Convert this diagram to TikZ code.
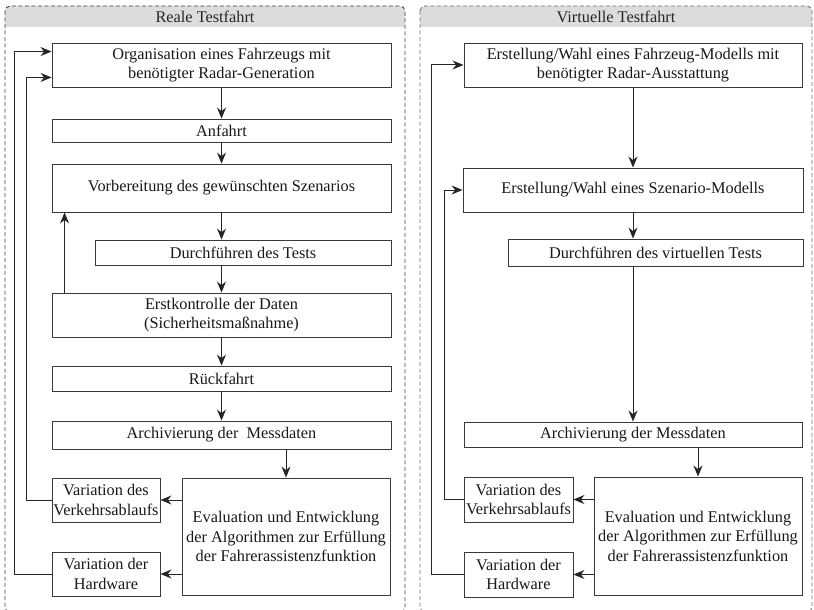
\documentclass[tikz,border=0pt]{standalone}
\usepackage{fontspec}
\setmainfont{Liberation Serif}
\usetikzlibrary{arrows.meta,calc}
\definecolor{headgray}{HTML}{DCDCDC}
\definecolor{linegray}{HTML}{3A3A3A}
\definecolor{dashgray}{HTML}{555555}
\tikzset{
  box/.style={draw=linegray, line width=0.9pt, fill=white, align=center, inner sep=1pt,
    font=\fontsize{16.3}{19.5}\selectfont, text=black!90},
  arr/.style={draw=black!85, line width=1pt, -{Stealth[length=11pt,width=9pt]}},
  panel/.style={dashed, dash pattern=on 4pt off 2.5pt, line width=0.9pt, rounded corners=5pt},
  headtext/.style={font=\fontsize{16.3}{19}\selectfont, text=black!85}
}
\begin{document}
\begin{tikzpicture}[x=1pt,y=-1pt]
\useasboundingbox (0,0) rectangle (814,610);
% panels
\fill[headgray] (5,27) [rounded corners=5pt]-- (5,6) -- (405,6) [sharp corners]-- (405,27) -- cycle;
\fill[headgray] (420,27) [rounded corners=5pt]-- (420,6) -- (812,6) [sharp corners]-- (812,27) -- cycle;
\draw[panel, draw=black!75] (5,6) rectangle (405,612);
\draw[panel, draw=black!55] (420,6) rectangle (812,612);
\node[headtext] (hl) at (205,16.5) {Reale Testfahrt};
\node[headtext] (hr) at (616,16.5) {Virtuelle Testfahrt};
% left boxes
\node[box, minimum width=339, minimum height=44] (org) at (221.5,65) {Organisation eines Fahrzeugs mit\\benötigter Radar-Generation};
\node[box, minimum width=339, minimum height=23] (anf) at (221.5,130.5) {Anfahrt};
\node[box, minimum width=339, minimum height=48] (vor) at (221.5,188) {Vorbereitung des gewünschten Szenarios};
\node[box, minimum width=296, minimum height=25] (dur) at (243,252.5) {Durchführen des Tests};
\node[box, minimum width=339, minimum height=44] (erst) at (221.5,315) {Erstkontrolle der Daten\\(Sicherheitsmaßnahme)};
\node[box, minimum width=339, minimum height=25] (rueck) at (221.5,378.5) {Rückfahrt};
\node[box, minimum width=339, minimum height=28] (arch) at (221.5,435) {Archivierung der~ Messdaten};
\node[box, minimum width=208, minimum height=117] (eval) at (286,536.5) {Evaluation und Entwicklung\\der Algorithmen zur Erfüllung\\der Fahrerassistenzfunktion};
\node[box, minimum width=108, minimum height=44] (varv) at (106,500) {Variation des\\Verkehrsablaufs};
\node[box, minimum width=108, minimum height=44] (varh) at (106,574) {Variation der\\Hardware};
% left arrows
\draw[arr] (org) -- (anf);
\draw[arr] (anf) -- (vor);
\draw[arr] (vor.south) -- (vor.south |- dur.north);
\draw[arr] (erst.north |- dur.south) -- (erst.north);
\draw[arr] (erst) -- (rueck);
\draw[arr] (rueck) -- (arch);
\draw[arr] (eval.north |- arch.south) -- (eval.north);
\draw[arr] (eval.west |- varv) -- (varv.east);
\draw[arr] (eval.west |- varh) -- (varh.east);
\draw[arr] ([xshift=13pt]erst.north west) -- ([xshift=13pt]vor.south west);
\coordinate (lv) at (26,0);
\coordinate (lh) at (14,0);
\coordinate (ov) at ([yshift=10pt]org.south west);
\coordinate (oh) at ([yshift=-9pt]org.north west);
\draw[arr] (varv.west) -| (lv |- ov) -- (ov);
\draw[arr] (varh.west) -| (lh |- oh) -- (oh);
% right boxes
\node[box, minimum width=338, minimum height=44] (rorg) at (633,65) {Erstellung/Wahl eines Fahrzeug-Modells mit\\benötigter Radar-Ausstattung};
\node[box, minimum width=340, minimum height=44] (rsz) at (633,190) {Erstellung/Wahl eines Szenario-Modells};
\node[box, minimum width=295, minimum height=27] (rdur) at (655.5,252.5) {Durchführen des virtuellen Tests};
\node[box, minimum width=338, minimum height=25] (rarch) at (633,434.5) {Archivierung der Messdaten};
\node[box, minimum width=208, minimum height=118] (reval) at (698,536) {Evaluation und Entwicklung\\der Algorithmen zur Erfüllung\\der Fahrerassistenzfunktion};
\node[box, minimum width=109, minimum height=45] (rvarv) at (518.5,499.5) {Variation des\\Verkehrsablaufs};
\node[box, minimum width=109, minimum height=45] (rvarh) at (518.5,574.5) {Variation der\\Hardware};
% right arrows
\draw[arr] (rorg) -- (rsz);
\draw[arr] (rsz.south) -- (rsz.south |- rdur.north);
\draw[arr] (rarch.north |- rdur.south) -- (rarch.north);
\draw[arr] (reval.north |- rarch.south) -- (reval.north);
\draw[arr] (reval.west |- rvarv) -- (rvarv.east);
\draw[arr] (reval.west |- rvarh) -- (rvarh.east);
\coordinate (rlv) at (444,0);
\coordinate (rlh) at (431,0);
\draw[arr] (rvarv.west) -| (rlv |- rsz.west) -- (rsz.west);
\draw[arr] (rvarh.west) -| (rlh |- rorg.west) -- (rorg.west);
\end{tikzpicture}
\end{document}
